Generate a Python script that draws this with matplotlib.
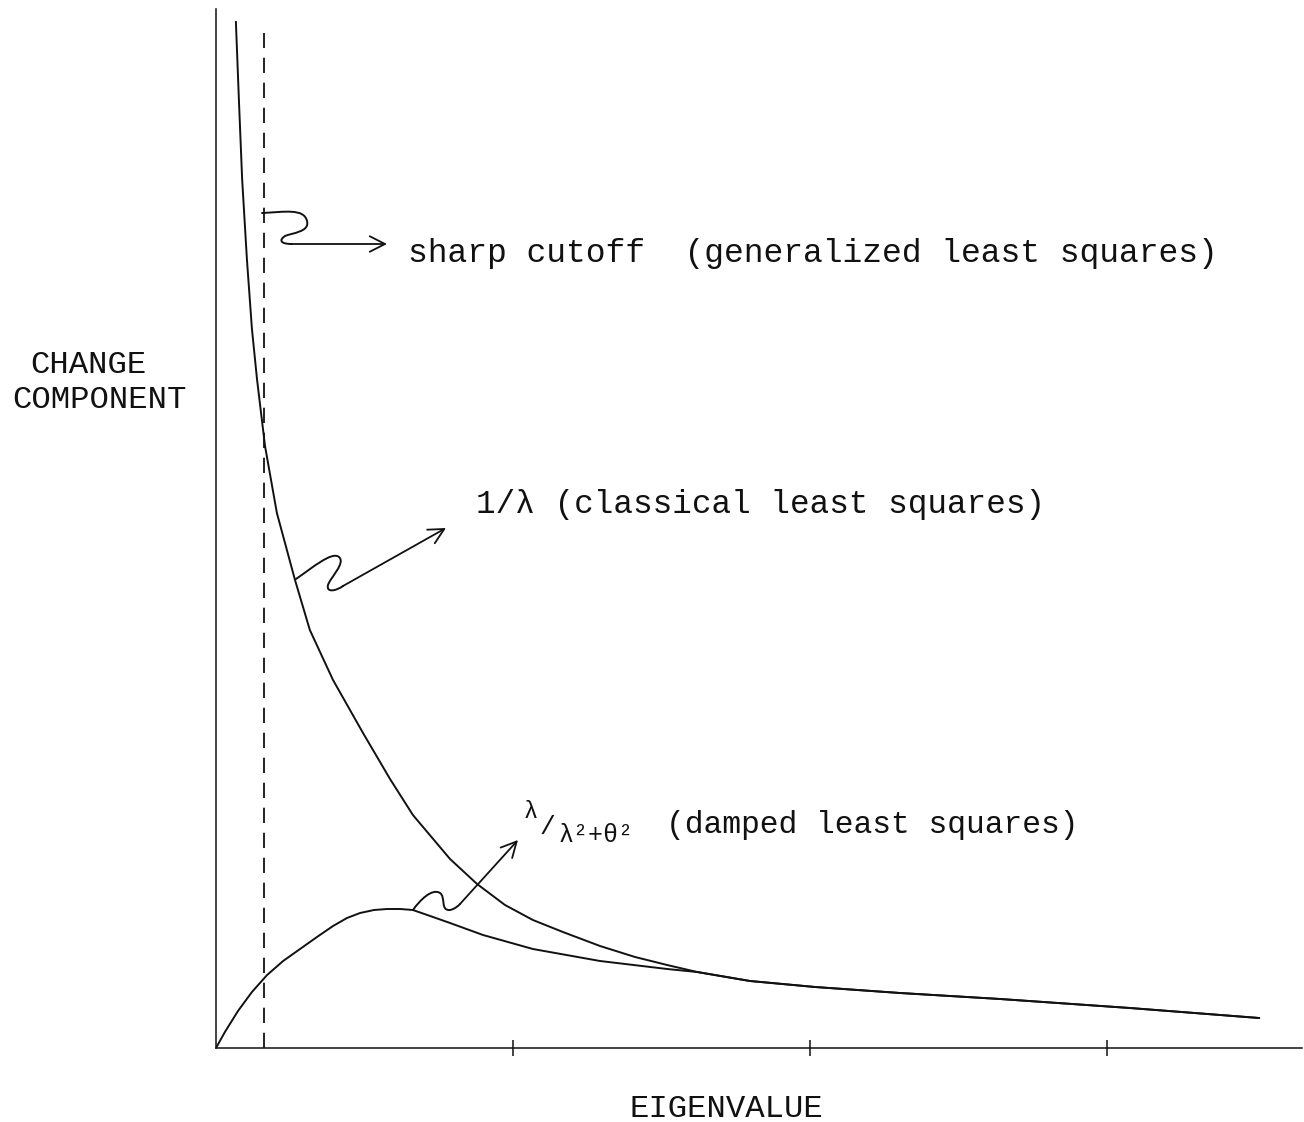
import matplotlib
matplotlib.use("Agg")
import matplotlib.pyplot as plt
from matplotlib.path import Path
from matplotlib.patches import PathPatch

plt.rcParams['lines.scale_dashes'] = False
FONT = ['Liberation Mono', 'DejaVu Sans Mono', 'DejaVu Sans']

# ---------------- data ----------------
# 1/lambda curve (classical least squares)
inv_x = [0.067, 0.077, 0.088, 0.104, 0.121, 0.138, 0.165, 0.205, 0.266, 0.316,
         0.394, 0.495, 0.586, 0.663, 0.788, 0.879, 0.973, 1.067, 1.168, 1.293,
         1.411, 1.519, 1.620, 1.798, 2.017, 2.303, 2.640, 3.077, 3.512]
inv_y = [10.26, 9.49, 8.69, 7.89, 7.19, 6.69, 6.02, 5.35, 4.68, 4.18,
         3.68, 3.15, 2.69, 2.33, 1.89, 1.64, 1.43, 1.28, 1.16, 1.02,
         0.91, 0.83, 0.76, 0.67, 0.61, 0.55, 0.49, 0.40, 0.30]

# lambda/(lambda^2+theta^2) curve (damped least squares)
damp_x = [0.0, 0.030, 0.074, 0.121, 0.172, 0.226, 0.283, 0.340, 0.394, 0.441,
          0.485, 0.532, 0.576, 0.620, 0.663, 0.721, 0.788, 0.899, 1.067, 1.293,
          1.519, 1.620, 1.798, 2.017, 2.303, 2.640, 3.077, 3.512]
damp_y = [0.0, 0.16, 0.37, 0.56, 0.73, 0.87, 0.99, 1.11, 1.22, 1.30,
          1.35, 1.38, 1.39, 1.39, 1.38, 1.32, 1.25, 1.13, 0.99, 0.87,
          0.79, 0.76, 0.67, 0.61, 0.55, 0.49, 0.40, 0.30]

# sharp cutoff (generalized least squares)
cutoff_x = 0.162
cutoff_top = 10.15

x_ticks = [1, 2, 3]
x_label = "EIGENVALUE"
y_label_lines = ["CHANGE", "COMPONENT"]
label_sharp = "sharp cutoff  (generalized least squares)"
label_classic = "1/\u03bb (classical least squares)"
label_damped = "(damped least squares)"

# ---------------- figure ----------------
W, H = 1304, 1122
fig = plt.figure(figsize=(W / 100, H / 100), dpi=100)
fig.patch.set_facecolor('white')


def F(px, py):
    """image pixel -> figure fraction"""
    return (px / W, 1 - py / H)


ax = fig.add_axes([216 / W, 1 - 1048 / H, (1302 - 216) / W, (1048 - 9) / H])
ax.set_xlim(0, (1302 - 216) / 297)
ax.set_ylim(0, 10.39)
for s in ('top', 'right'):
    ax.spines[s].set_visible(False)
for s in ('left', 'bottom'):
    ax.spines[s].set_linewidth(1.1)
    ax.spines[s].set_color('#111111')
ax.set_xticks(x_ticks)
ax.set_xticklabels([])
ax.tick_params(axis='x', direction='inout', length=11, width=1.1, color='#111111')
ax.set_yticks([])

ink = '#111111'
ax.plot(inv_x, inv_y, color=ink, lw=1.4, solid_joinstyle='round')
ax.plot(damp_x, damp_y, color=ink, lw=1.4, solid_joinstyle='round')
ax.plot([cutoff_x, cutoff_x], [0, cutoff_top], color=ink, lw=1.3,
        linestyle=(0, (11, 7)))

# ---------------- squiggle annotation arrows ----------------
squiggles = [
    # (bezier path in image pixels, arrow start, arrow tip)
    ([(262, 213), (284, 212), (304, 208), (307, 221),
      (310, 232), (292, 233), (285, 236),
      (279, 240), (280, 244), (292, 244)], (292, 244), (387, 244)),
    ([(296, 579), (312, 568), (332, 551), (339, 557),
      (346, 563), (330, 578), (328, 585),
      (326, 593), (336, 591), (343, 586)], (343, 586), (446, 528)),
    ([(413, 910), (420, 900), (432, 888), (440, 893),
      (446, 897), (440, 911), (450, 910),
      (455, 909), (458, 906), (460, 904)], (460, 904), (518, 840)),
]
for pts, a, b in squiggles:
    verts = [F(*p) for p in pts]
    codes = [Path.MOVETO] + [Path.CURVE4] * (len(verts) - 1)
    patch = PathPatch(Path(verts, codes), transform=fig.transFigure,
                      fill=False, lw=1.4, edgecolor=ink,
                      capstyle='round', joinstyle='round')
    fig.add_artist(patch)
    ax.annotate("", xy=F(*b), xytext=F(*a), xycoords='figure fraction',
                textcoords='figure fraction',
                arrowprops=dict(arrowstyle='->,head_length=0.55,head_width=0.28',
                                lw=1.3, color=ink, shrinkA=0, shrinkB=0,
                                mutation_scale=20))

# ---------------- texts ----------------
fig.text(*F(408, 262), label_sharp, family=FONT, fontsize=23.8, color=ink,
         ha='left', va='baseline')
fig.text(*F(476, 513), label_classic, family=FONT, fontsize=23.5, color=ink,
         ha='left', va='baseline')
fig.text(*F(666, 833), label_damped, family=FONT, fontsize=22.5, color=ink,
         ha='left', va='baseline')
# handwritten fraction lambda / (lambda^2 + theta^2)
fig.text(*F(524, 818), "\u03bb", family=FONT, fontsize=17, color=ink,
         ha='left', va='baseline')
fig.text(*F(540, 834), "/", family=FONT, fontsize=19, color=ink,
         ha='left', va='baseline')
fig.text(*F(559, 842), "\u03bb\u00b2+\u03b8\u00b2", family=FONT, fontsize=18,
         color=ink, ha='left', va='baseline')

fig.text(*F(88, 373), y_label_lines[0], family=FONT, fontsize=23.3, color=ink,
         ha='center', va='baseline')
fig.text(*F(99, 408), y_label_lines[1], family=FONT, fontsize=23.3, color=ink,
         ha='center', va='baseline')
fig.text(*F(726, 1117), x_label, family=FONT, fontsize=23.3, color=ink,
         ha='center', va='baseline')

fig.savefig("out.png", dpi=100, facecolor='white')
